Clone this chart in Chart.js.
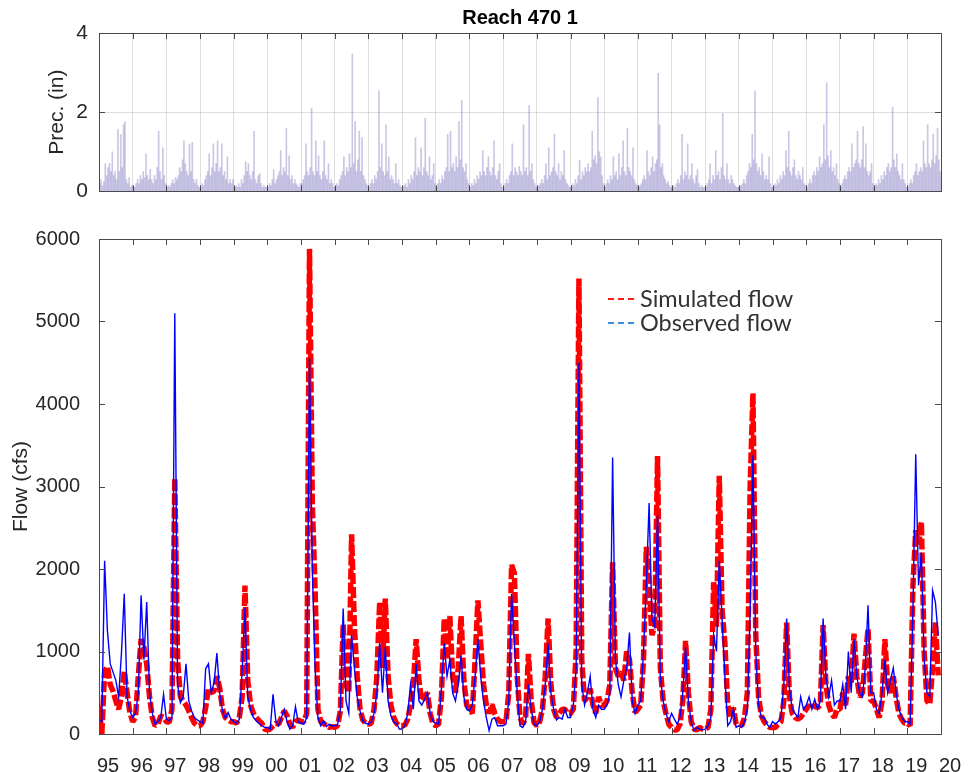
<!DOCTYPE html>
<html>
<head>
<meta charset="utf-8">
<title>Reach 470 1</title>
<script src="https://cdn.jsdelivr.net/npm/chart.js@4.4.1/dist/chart.umd.min.js"></script>
<style>
  body { margin: 0; background: #fff; }
  #wrap { position: relative; width: 971px; height: 772px; background: #fff; }
  canvas { position: absolute; left: 0; }
  #precChart { top: 0; }
  #flowChart { top: 215px; }
</style>
</head>
<body>
<div id="wrap">
  <canvas id="precChart" width="971" height="215"></canvas>
  <canvas id="flowChart" width="971" height="557"></canvas>
</div>
<script>
// years on the x axis, and the two-digit labels under the ticks
const years = [1995, 1996, 1997, 1998, 1999, 2000, 2001, 2002, 2003, 2004, 2005, 2006, 2007,
               2008, 2009, 2010, 2011, 2012, 2013, 2014, 2015, 2016, 2017, 2018, 2019, 2020];
const yearLabels = ['95', '96', '97', '98', '99', '00', '01', '02', '03', '04', '05', '06', '07',
                    '08', '09', '10', '11', '12', '13', '14', '15', '16', '17', '18', '19', '20'];
const precTicks = [0, 2, 4];
const flowTicks = [0, 1000, 2000, 3000, 4000, 5000, 6000];

// monthly flow (cfs), one row per year starting Jan 1995
const obsFlow = [
  180, 150, 2100, 1250, 850, 750, 650, 450, 980, 1700, 450, 280,
  200, 250, 500, 1680, 900, 1600, 500, 250, 120, 150, 200, 480,
  180, 160, 200, 5100, 600, 380, 450, 850, 400, 280, 200, 170,
  150, 130, 790, 850, 500, 620, 980, 500, 280, 190, 260, 180,
  150, 130, 180, 750, 1530, 450, 300, 200, 160, 130, 100, 80,
  80, 60, 480, 160, 100, 200, 300, 150, 60, 100, 330, 140,
  130, 120, 200, 4550, 2000, 800, 200, 100, 160, 90, 120, 100,
  100, 110, 300, 1520, 400, 250, 1200, 800, 450, 280, 160, 130,
  120, 150, 250, 500, 1100, 500, 1050, 400, 220, 140, 130, 60,
  60, 100, 250, 600, 300, 850, 400, 350, 420, 500, 250, 150,
  130, 120, 550, 1100, 700, 900, 500, 400, 600, 950, 450, 300,
  280, 350, 700, 1150, 700, 400, 200, 40, 180, 200, 100, 100,
  100, 120, 400, 1700, 1100, 500, 100, 80, 150, 600, 300, 120,
  100, 150, 300, 600, 1100, 500, 300, 170, 200, 180, 300, 200,
  200, 350, 800, 4500, 600, 350, 500, 700, 300, 200, 350, 300,
  300, 350, 500, 3350, 900, 600, 450, 650, 800, 1230, 400, 250,
  350, 400, 1000, 1800, 2800, 1400, 1300, 2650, 700, 400, 250, 150,
  250, 180, 120, 200, 500, 1050, 400, 150, 40, 80, 60, 50,
  60, 100, 200, 1200, 1000, 2100, 1400, 700, 100, 150, 300, 80,
  100, 80, 150, 300, 1500, 3380, 1000, 350, 200, 200, 120, 80,
  150, 120, 150, 200, 600, 1400, 550, 300, 250, 200, 450, 300,
  350, 450, 300, 420, 300, 400, 1400, 700, 450, 650, 350, 400,
  400, 600, 300, 1000, 500, 1150, 700, 500, 450, 800, 1560, 500,
  500, 300, 250, 500, 900, 500, 650, 800, 500, 300, 200, 150,
  150, 120, 1500, 3390, 1800, 2200, 900, 500, 450, 1740, 1600, 1200
];
const simFlow = [
  340, 0, 750, 820, 600, 520, 400, 300, 450, 760, 500, 260,
  150, 200, 700, 1150, 1050, 850, 450, 200, 100, 120, 220, 200,
  150, 140, 300, 3100, 900, 450, 400, 350, 280, 200, 130, 100,
  100, 150, 320, 560, 500, 520, 700, 560, 300, 200, 170, 150,
  150, 130, 200, 450, 1800, 650, 350, 250, 200, 160, 130, 60,
  50, 60, 100, 130, 120, 200, 280, 220, 120, 80, 150, 170,
  150, 150, 250, 5880, 2800, 1750, 300, 150, 130, 100, 80, 90,
  80, 100, 280, 1330, 600, 500, 2420, 1300, 700, 300, 170, 130,
  120, 130, 300, 700, 1600, 800, 1640, 700, 350, 200, 130, 100,
  100, 110, 180, 350, 600, 1150, 650, 400, 450, 500, 250, 120,
  100, 120, 450, 1400, 900, 1430, 700, 500, 800, 1430, 650, 350,
  300, 250, 900, 1620, 1100, 600, 350, 250, 360, 250, 180, 150,
  150, 150, 500, 2050, 1950, 700, 200, 120, 200, 970, 400, 140,
  100, 150, 300, 700, 1400, 600, 300, 200, 250, 300, 300, 250,
  250, 300, 1000, 5520, 900, 400, 450, 550, 350, 250, 450, 350,
  350, 400, 600, 2080, 800, 700, 750, 650, 1000, 900, 500, 260,
  300, 350, 900, 2270, 1800, 1200, 1300, 3370, 800, 400, 250, 120,
  80, 50, 50, 120, 400, 1130, 500, 150, 60, 50, 80, 60,
  60, 80, 300, 1840, 1300, 3130, 1500, 1100, 350, 200, 320, 120,
  120, 100, 200, 500, 3000, 4130, 1200, 450, 220, 150, 110, 80,
  80, 80, 120, 150, 400, 1350, 450, 250, 200, 180, 200, 250,
  300, 350, 300, 350, 320, 350, 1320, 600, 350, 250, 200, 300,
  300, 500, 350, 700, 600, 1215, 700, 450, 500, 900, 1275, 400,
  400, 300, 200, 400, 1150, 600, 500, 700, 450, 250, 180, 130,
  130, 100, 1800, 2470, 2300, 2570, 1000, 400, 360, 800, 1355, 710
];

// half-monthly precipitation (in), one row per year
const precip = [
  0.2,0.3,0.15,0.25,0.7,0.4,0.6,0.7,0.5,1.0,0.4,0.5,0.3,1.56,0.5,1.44,0.6,1.68,1.76,0.3,0.2,0.35,0.1,0.15,
  0.15,0.1,0.2,0.3,0.2,0.4,0.3,0.5,0.35,0.95,0.4,0.3,0.55,0.3,0.2,0.4,0.3,0.6,1.52,0.5,0.3,1.1,0.4,0.2,
  0.1,0.15,0.1,0.2,0.3,0.2,0.35,0.3,0.4,0.6,0.5,0.8,1.28,0.7,0.5,0.4,1.2,0.5,1.24,0.3,0.2,0.3,0.15,0.1,
  0.1,0.2,0.15,0.3,0.4,0.5,0.95,0.4,0.6,1.2,0.5,0.7,1.28,0.5,0.6,1.2,0.4,0.5,0.3,0.87,0.2,0.3,0.2,0.3,
  0.1,0.15,0.1,0.2,0.1,0.3,0.2,0.4,0.75,0.5,0.7,0.4,0.3,0.5,1.52,0.3,0.2,0.4,0.45,0.2,0.1,0.15,0.1,0.1,
  0.1,0.2,0.15,0.3,0.55,0.2,0.3,0.4,0.5,1.03,0.4,0.6,0.5,1.6,0.4,0.9,0.3,0.4,0.2,0.3,0.2,0.15,0.1,0.2,
  0.2,0.3,0.4,1.2,0.5,0.4,0.6,2.1,0.5,0.4,1.28,0.5,0.9,0.4,0.3,0.5,1.28,0.4,0.3,0.7,0.2,0.3,0.2,0.1,
  0.1,0.2,0.15,0.3,0.4,0.5,0.87,0.4,0.6,0.5,0.95,0.6,3.47,0.7,1.76,0.5,0.8,1.52,0.5,1.36,0.4,0.3,0.2,0.15,
  0.1,0.2,0.3,0.2,0.4,0.3,0.5,2.54,0.6,1.2,0.5,0.4,1.68,0.5,0.87,0.3,0.4,0.3,0.2,0.7,0.2,0.3,0.15,0.1,
  0.1,0.15,0.2,0.1,0.3,0.2,0.4,0.3,0.5,1.36,0.4,0.6,0.5,1.1,0.4,0.6,1.85,0.5,0.4,0.87,0.3,0.4,0.7,0.2,
  0.1,0.2,0.3,0.2,0.4,0.3,0.5,0.6,1.44,0.5,1.52,0.6,0.7,0.5,0.87,0.6,1.76,0.8,2.3,0.6,0.5,0.7,0.3,0.2,
  0.1,0.2,0.15,0.3,0.2,0.4,0.3,0.5,0.4,1.03,0.5,0.4,0.6,0.87,0.5,0.4,0.6,1.28,0.4,0.3,0.5,0.7,0.2,0.1,
  0.1,0.2,0.3,0.2,0.4,0.5,1.2,0.4,0.6,0.5,0.4,0.63,0.5,0.4,1.68,0.5,0.6,0.4,2.17,0.5,0.7,0.3,0.2,0.1,
  0.1,0.15,0.2,0.3,0.2,0.4,0.7,0.3,1.1,0.4,0.5,0.6,1.44,0.5,0.4,0.7,0.3,0.5,0.4,1.03,0.3,0.2,0.15,0.1,
  0.1,0.2,0.15,0.3,0.2,0.4,0.79,0.3,0.5,0.4,0.6,0.5,0.7,0.5,0.6,1.52,0.8,0.9,0.7,2.37,1.0,0.87,0.4,0.2,
  0.1,0.2,0.3,0.2,0.4,0.3,0.87,0.4,0.5,0.3,0.95,0.4,0.6,1.28,0.5,0.4,1.6,0.6,0.5,0.4,1.1,0.3,0.2,0.15,
  0.1,0.15,0.2,0.3,0.4,0.3,1.03,0.5,0.4,0.6,0.87,0.5,0.7,0.8,2.98,1.68,0.6,0.7,0.4,0.3,0.2,0.25,0.15,0.1,
  0.1,0.15,0.1,0.2,0.3,0.2,0.4,1.44,0.3,0.5,0.4,1.2,0.3,0.4,0.7,0.3,0.2,0.4,0.55,0.2,0.1,0.15,0.1,0.1,
  0.1,0.2,0.3,0.7,0.2,0.4,0.3,1.03,0.4,0.5,0.3,0.6,1.97,0.4,0.3,0.7,0.3,0.2,0.4,0.3,0.2,0.15,0.1,0.1,
  0.1,0.15,0.2,0.3,0.2,0.4,0.5,0.7,0.6,1.44,0.8,2.54,0.7,0.5,0.6,0.4,0.95,0.5,0.3,0.4,0.3,0.87,0.2,0.1,
  0.1,0.2,0.15,0.3,0.2,0.4,0.3,0.5,0.4,1.03,0.6,1.52,0.5,0.4,0.6,0.8,0.4,0.3,0.5,0.4,0.3,0.6,0.2,0.15,
  0.1,0.2,0.3,0.2,0.4,0.5,0.4,0.6,0.5,0.87,0.6,0.7,1.68,0.8,2.74,0.9,0.6,1.03,0.5,0.6,0.4,0.7,0.3,0.2,
  0.1,0.2,0.3,0.4,0.3,0.5,0.6,0.5,1.2,0.6,0.7,0.8,1.52,0.7,0.6,0.8,1.64,0.6,1.2,0.5,0.4,0.5,0.7,0.2,
  0.1,0.2,0.15,0.3,0.2,0.4,0.3,0.5,0.4,0.6,0.7,0.5,0.6,2.13,0.8,0.6,0.95,0.5,0.4,0.3,0.7,0.3,0.2,0.1,
  0.1,0.2,0.3,0.2,0.4,0.5,0.7,0.4,0.5,0.6,0.5,1.28,0.7,0.6,1.68,0.7,0.6,0.8,1.44,0.7,0.9,1.6,0.8,0.5
];

const startYear = years[0];
const flowPoints = arr => arr.map((v, i) => ({x: startYear + i / 12, y: v}));
const precPoints = precip.map((v, i) => ({x: startYear + (i + 0.5) / 24, y: v}));

Chart.defaults.font.family = '"Liberation Sans", Arial, sans-serif';
Chart.defaults.color = '#262626';
Chart.defaults.animation = false;

const axisColor = '#4a4a4a';

// matlab style box with ticks pointing inwards
const boxPlugin = {
  id: 'box',
  afterDraw(chart) {
    const {ctx, chartArea: a, scales} = chart;
    const len = 6;
    ctx.save();
    ctx.strokeStyle = axisColor;
    ctx.lineWidth = 1;
    ctx.beginPath();
    scales.x.ticks.forEach(t => {
      const px = Math.round(scales.x.getPixelForValue(t.value)) + 0.5;
      ctx.moveTo(px, a.top); ctx.lineTo(px, a.top + len);
      ctx.moveTo(px, a.bottom); ctx.lineTo(px, a.bottom - len);
    });
    scales.y.ticks.forEach(t => {
      const py = Math.round(scales.y.getPixelForValue(t.value)) + 0.5;
      ctx.moveTo(a.left, py); ctx.lineTo(a.left + len, py);
      ctx.moveTo(a.right, py); ctx.lineTo(a.right - len, py);
    });
    ctx.stroke();
    ctx.strokeRect(Math.round(a.left) + 0.5, Math.round(a.top) + 0.5,
                   Math.round(a.right - a.left), Math.round(a.bottom - a.top));
    ctx.restore();
  }
};

const legendItems = [
  {text: 'Simulated flow', color: '#ff1a1a'},
  {text: 'Observed flow', color: '#3d8ee0'}
];

const flowLegend = {
  id: 'flowLegend',
  afterDraw(chart) {
    const {ctx} = chart;
    ctx.save();
    ctx.font = '23.5px Lato, "Open Sans", sans-serif';
    ctx.textBaseline = 'middle';
    legendItems.forEach((it, i) => {
      const y = 84 + i * 24;
      ctx.strokeStyle = it.color;
      ctx.lineWidth = 2;
      ctx.setLineDash([6, 4]);
      ctx.beginPath();
      ctx.moveTo(608, y); ctx.lineTo(637, y);
      ctx.stroke();
      ctx.setLineDash([]);
      ctx.fillStyle = '#333';
      ctx.fillText(it.text, 640, y);
    });
    ctx.restore();
  }
};

const xTicksFromYears = s => { s.ticks = years.map(v => ({value: v})); };

new Chart(document.getElementById('precChart'), {
  type: 'bar',
  data: {
    datasets: [{
      data: precPoints,
      backgroundColor: 'rgba(80, 70, 170, 0.3)',
      borderWidth: 0,
      barThickness: 1
    }]
  },
  options: {
    responsive: false,
    devicePixelRatio: 1,
    layout: {padding: {left: 0, right: 30, top: 0, bottom: 0}},
    plugins: {
      legend: {display: false},
      tooltip: {enabled: false},
      title: {
        display: true,
        text: 'Reach 470 1',
        fullSize: false,
        color: '#000',
        font: {size: 20, weight: 'bold'},
        padding: {top: 6, bottom: 3}
      }
    },
    scales: {
      x: {
        type: 'linear',
        min: years[0],
        max: years[years.length - 1],
        offset: false,
        afterBuildTicks: xTicksFromYears,
        afterFit: s => { s.height = 18; },
        ticks: {display: false},
        border: {display: false},
        grid: {offset: false, drawTicks: false, color: 'rgba(0,0,0,0.13)'}
      },
      y: {
        min: 0,
        max: 4,
        afterBuildTicks: s => { s.ticks = precTicks.map(v => ({value: v})); },
        afterFit: s => { s.width = 99; },
        border: {display: false},
        grid: {drawTicks: false, color: 'rgba(0,0,0,0.13)'},
        ticks: {font: {size: 21}, padding: 11, callback: v => String(v)},
        title: {display: true, text: 'Prec. (in)', font: {size: 21}, padding: {top: 45}}
      }
    }
  },
  plugins: [boxPlugin]
});

new Chart(document.getElementById('flowChart'), {
  type: 'line',
  data: {
    datasets: [
      {
        label: 'Observed flow',
        data: flowPoints(obsFlow),
        borderColor: '#0000ff',
        borderWidth: 1.4,
        pointRadius: 0,
        order: 0
      },
      {
        label: 'Simulated flow',
        data: flowPoints(simFlow),
        borderColor: '#ff0000',
        borderWidth: 5.5,
        borderDash: [11, 3],
        borderJoinStyle: 'bevel',
        pointRadius: 0,
        order: 1
      }
    ]
  },
  options: {
    responsive: false,
    devicePixelRatio: 1,
    layout: {padding: {left: 0, right: 30, top: 24, bottom: 0}},
    plugins: {legend: {display: false}, tooltip: {enabled: false}},
    scales: {
      x: {
        type: 'linear',
        min: years[0],
        max: years[years.length - 1],
        afterBuildTicks: xTicksFromYears,
        afterFit: s => { s.height = 38; },
        border: {display: false},
        grid: {display: false},
        ticks: {
          autoSkip: false,
          maxRotation: 0,
          font: {size: 20},
          padding: 12,
          labelOffset: 9,
          callback: (v, i) => yearLabels[i]
        }
      },
      y: {
        min: 0,
        max: 6000,
        afterBuildTicks: s => { s.ticks = flowTicks.map(v => ({value: v})); },
        afterFit: s => { s.width = 99; },
        border: {display: false},
        grid: {display: false},
        ticks: {font: {size: 20}, padding: 11, callback: v => String(v)},
        title: {display: true, text: 'Flow (cfs)', font: {size: 21}, padding: {top: 9}}
      }
    }
  },
  plugins: [boxPlugin, flowLegend]
});
</script>
</body>
</html>
